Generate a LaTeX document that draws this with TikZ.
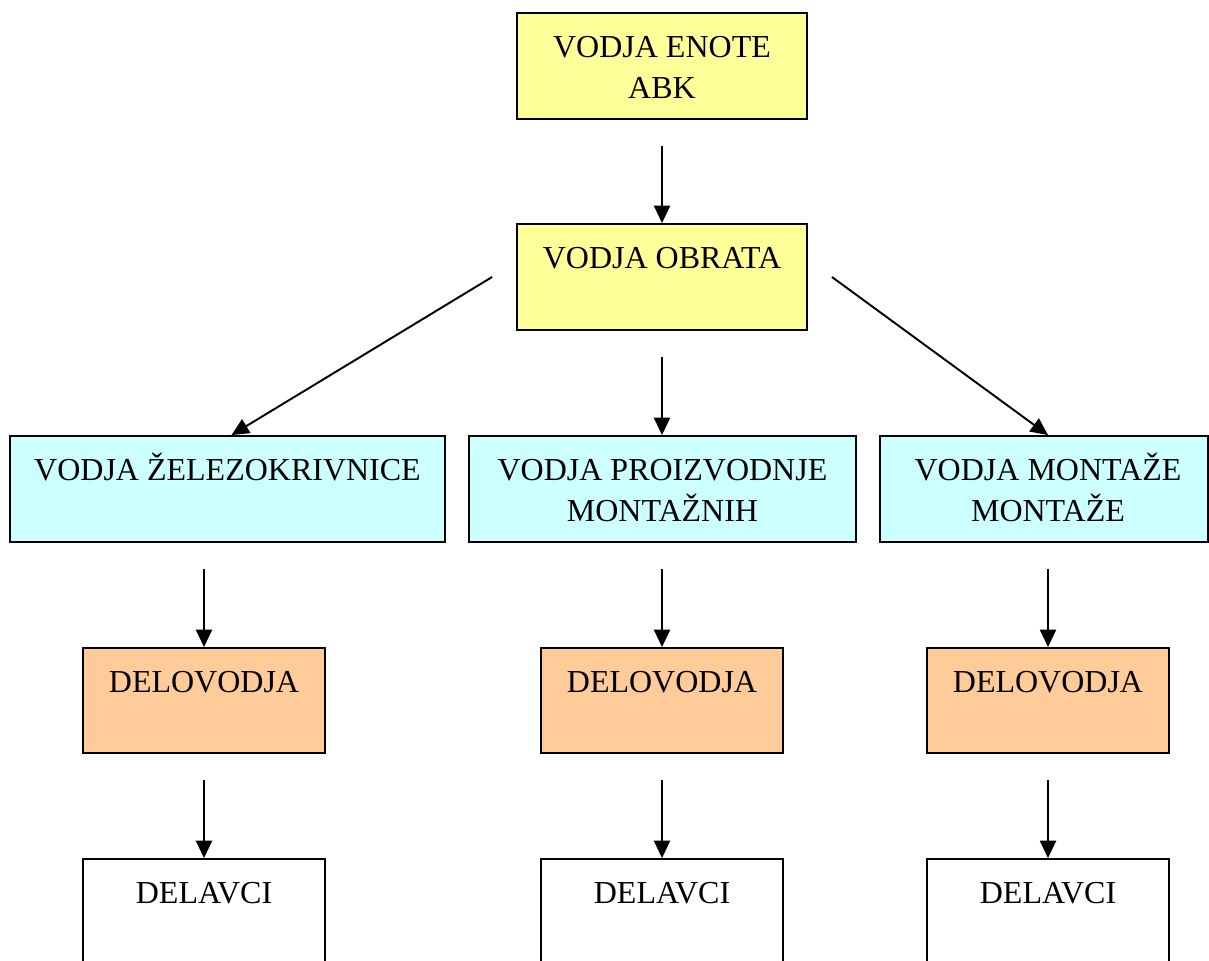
\documentclass[tikz,border=0pt]{standalone}
\usepackage{fontspec}
\setmainfont{Liberation Serif}
\usetikzlibrary{arrows.meta,calc}
\definecolor{cyel}{HTML}{FFFF99}
\definecolor{ccyan}{HTML}{CCFFFF}
\definecolor{corange}{HTML}{FFCC99}
\begin{document}
\begin{tikzpicture}[x=0.75pt,y=-0.75pt,
  box/.style={draw=black,line width=1.4pt,inner sep=0pt,minimum height=106*0.75pt},
  lbl/.style={anchor=base,inner sep=0pt,font=\fontsize{24pt}{30.75pt}\selectfont},
  arr/.style={line width=1.45pt,-{Triangle[length=13pt,width=12pt]}}]
\useasboundingbox (0,0) rectangle (1209,960);
% row 1
\node[box,fill=cyel,minimum width=290*0.75pt] (A) at (662,66) {};
\node[lbl] (tA1) at (662,57) {VODJA ENOTE};
\node[lbl] (tA2) at (662,98) {ABK};
% row 2
\node[box,fill=cyel,minimum width=290*0.75pt] (B) at (662,277) {};
\node[lbl] (tB) at (662,268) {VODJA OBRATA};
% row 3
\node[box,fill=ccyan,minimum width=435*0.75pt] (C1) at (227.5,489) {};
\node[box,fill=ccyan,minimum width=387*0.75pt] (C2) at (662.5,489) {};
\node[box,fill=ccyan,minimum width=328*0.75pt] (C3) at (1044,489) {};
\node[lbl] (tC1) at (227.5,480) {VODJA ŽELEZOKRIVNICE};
\node[lbl] (tC2a) at (662.5,480) {VODJA PROIZVODNJE};
\node[lbl] (tC2b) at (662.5,521) {MONTAŽNIH};
\node[lbl] (tC3a) at (1048,480) {VODJA MONTAŽE};
\node[lbl] (tC3b) at (1048,521) {MONTAŽE};
% row 4
\foreach \n/\x in {1/204,2/662,3/1048}{
  \node[box,fill=corange,minimum width=242*0.75pt,minimum height=105*0.75pt] (D\n) at (\x,700.5) {};
  \node[lbl] (tD\n) at (\x,692) {DELOVODJA};
  \node[box,fill=white,minimum width=242*0.75pt] (E\n) at (\x,912) {};
  \node[lbl] (tE\n) at (\x,903) {DELAVCI};
}
% arrows
\draw[arr,shorten <=26*0.75pt] (A.south) -- (B.north);
\draw[arr] ($(B.west)+(-24,0)$) -- ($(C1.north)+(4,0)$);
\draw[arr,shorten <=26*0.75pt] (B.south) -- (C2.north -| B.south);
\draw[arr] ($(B.east)+(24,0)$) -- (C3.north -| D3.north);
\draw[arr,shorten <=26*0.75pt] (C1.south -| D1.north) -- (D1.north);
\draw[arr,shorten <=26*0.75pt] (C2.south -| D2.north) -- (D2.north);
\draw[arr,shorten <=26*0.75pt] (C3.south -| D3.north) -- (D3.north);
\foreach \n in {1,2,3}{
  \draw[arr,shorten <=26*0.75pt] (D\n.south) -- (E\n.north);
}
\end{tikzpicture}
\end{document}
